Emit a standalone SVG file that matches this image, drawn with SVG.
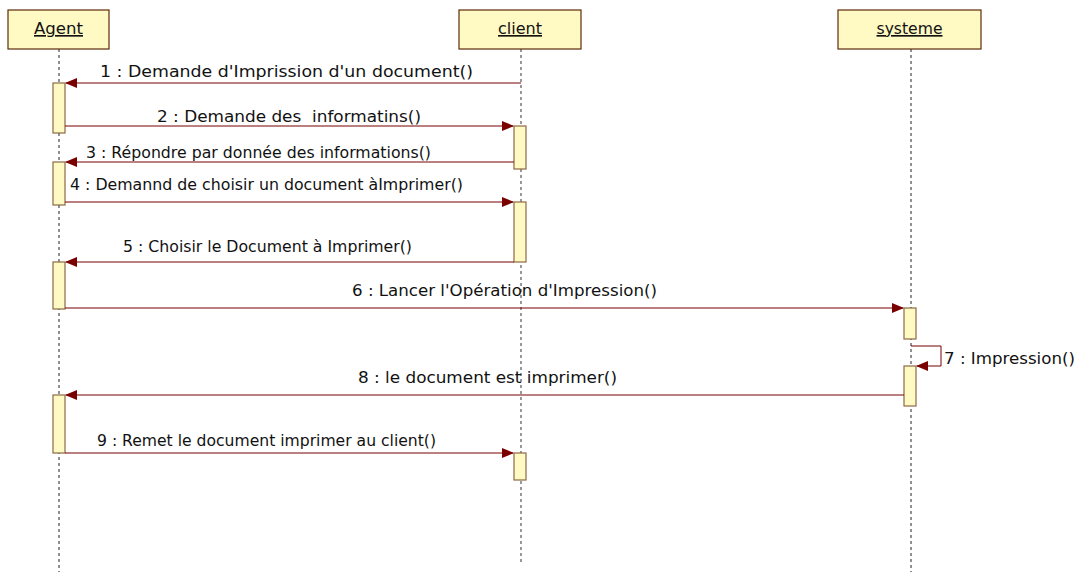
<svg xmlns="http://www.w3.org/2000/svg" width="1079" height="572" viewBox="0 0 1079 572">
  <defs>
    <marker id="arrow" markerWidth="12" markerHeight="10" refX="11" refY="5" orient="auto" markerUnits="userSpaceOnUse">
      <path d="M0,0 L12,5 L0,10 Z" fill="#7a0000"/>
    </marker>
    <style>
      .head { fill: #fff9c4; stroke: #5c2a0a; stroke-width: 1.2; }
      .hlabel { font-family: "DejaVu Sans", Tahoma, sans-serif; font-size: 16.5px; fill: #111; text-anchor: middle; text-decoration: underline; }
      .life { stroke: #222; stroke-width: 1; stroke-dasharray: 3 3; }
      .life2 { stroke: #777; stroke-width: 1.5; stroke-dasharray: 3 3; }
      .act { fill: #fff9c4; stroke: #8b6a45; stroke-width: 1.2; }
      .msg { stroke: #7a0000; stroke-width: 1; fill: none; marker-end: url(#arrow); }
      .lbl { font-family: "DejaVu Sans", Tahoma, sans-serif; font-size: 16.5px; fill: #111; }
    </style>
  </defs>
  <rect width="1079" height="572" fill="#ffffff"/>

  <!-- lifelines -->
  <g id="lifelines">
    <line class="life" x1="59" y1="49" x2="59" y2="572"/>
    <line class="life2" x1="521" y1="49" x2="521" y2="563"/>
    <line class="life" x1="911" y1="49" x2="911" y2="572"/>
  </g>

  <!-- Agent -->
  <g id="agent">
    <rect class="head" x="8" y="10" width="101" height="39"/>
    <text class="hlabel" x="58.5" y="34" textLength="49" lengthAdjust="spacingAndGlyphs">Agent</text>
    <rect class="act" x="53" y="83" width="12" height="50"/>
    <rect class="act" x="53" y="162" width="12" height="43"/>
    <rect class="act" x="53" y="262" width="12" height="47"/>
    <rect class="act" x="53" y="395" width="12" height="58"/>
  </g>

  <!-- client -->
  <g id="client">
    <rect class="head" x="459" y="10" width="122" height="39"/>
    <text class="hlabel" x="520" y="34" textLength="44" lengthAdjust="spacingAndGlyphs">client</text>
    <rect class="act" x="514" y="126" width="12" height="43"/>
    <rect class="act" x="514" y="202" width="12" height="60"/>
    <rect class="act" x="514" y="453" width="12" height="27"/>
  </g>

  <!-- systeme -->
  <g id="systeme">
    <rect class="head" x="838" y="10" width="143" height="39"/>
    <text class="hlabel" x="909.5" y="34" textLength="66" lengthAdjust="spacingAndGlyphs">systeme</text>
    <rect class="act" x="904" y="308" width="12" height="31"/>
    <rect class="act" x="904" y="366" width="12" height="40"/>
  </g>

  <!-- messages -->
  <g id="connectors">
    <line class="msg" x1="521" y1="83" x2="66" y2="83"/>
    <line class="msg" x1="65" y1="126" x2="513" y2="126"/>
    <line class="msg" x1="514" y1="162" x2="66" y2="162"/>
    <line class="msg" x1="65" y1="202" x2="513" y2="202"/>
    <line class="msg" x1="514" y1="262" x2="66" y2="262"/>
    <line class="msg" x1="65" y1="308" x2="903" y2="308"/>
    <polyline class="msg" points="911,346 941,346 941,366 917,366"/>
    <line class="msg" x1="904" y1="395" x2="66" y2="395"/>
    <line class="msg" x1="65" y1="453" x2="513" y2="453"/>
  </g>

  <!-- message labels -->
  <g id="labels">
    <text class="lbl" x="100" y="77" textLength="373" lengthAdjust="spacingAndGlyphs">1 : Demande d'Imprission d'un document()</text>
    <text class="lbl" x="157" y="122" textLength="264" lengthAdjust="spacingAndGlyphs" xml:space="preserve">2 : Demande des  informatins()</text>
    <text class="lbl" x="86" y="158" textLength="345" lengthAdjust="spacingAndGlyphs">3 : Répondre par donnée des informations()</text>
    <text class="lbl" x="70" y="190" textLength="393" lengthAdjust="spacingAndGlyphs">4 : Demannd de choisir un document àImprimer()</text>
    <text class="lbl" x="123" y="252" textLength="289" lengthAdjust="spacingAndGlyphs">5 : Choisir le Document à Imprimer()</text>
    <text class="lbl" x="352" y="296" textLength="305" lengthAdjust="spacingAndGlyphs">6 : Lancer l'Opération d'Impression()</text>
    <text class="lbl" x="944" y="364" textLength="131" lengthAdjust="spacingAndGlyphs">7 : Impression()</text>
    <text class="lbl" x="358" y="383" textLength="259" lengthAdjust="spacingAndGlyphs">8 : le document est imprimer()</text>
    <text class="lbl" x="97" y="446" textLength="339" lengthAdjust="spacingAndGlyphs">9 : Remet le document imprimer au client()</text>
  </g>
</svg>
